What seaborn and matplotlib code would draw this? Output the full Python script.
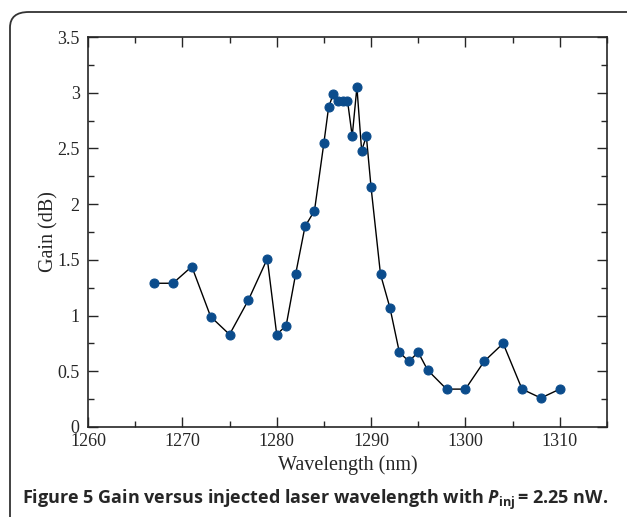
import numpy as np
import pandas as pd
import seaborn as sns
import matplotlib.pyplot as plt
from matplotlib.patches import FancyBboxPatch
from matplotlib.ticker import MultipleLocator, FuncFormatter

# wavelength (nm) and measured gain (dB)
wavelength = [1267, 1269, 1271, 1273, 1275, 1277, 1279, 1280, 1281, 1282,
              1283, 1284, 1285, 1285.5, 1286, 1286.5, 1287, 1287.5, 1288, 1288.5,
              1289, 1289.5, 1290, 1291, 1292, 1293, 1294, 1295, 1296, 1298,
              1300, 1302, 1304, 1306, 1308, 1310]
gain = [1.29, 1.29, 1.44, 0.99, 0.83, 1.14, 1.51, 0.83, 0.91, 1.37,
        1.80, 1.94, 2.55, 2.87, 2.99, 2.93, 2.93, 2.93, 2.61, 3.05,
        2.48, 2.61, 2.15, 1.37, 1.07, 0.67, 0.59, 0.67, 0.51, 0.34,
        0.34, 0.59, 0.75, 0.34, 0.26, 0.34]

df = pd.DataFrame({"wavelength": wavelength, "gain": gain})

sns.set_style("ticks")
plt.rcParams["font.family"] = ["Liberation Serif", "DejaVu Serif"]
plt.rcParams["mathtext.fontset"] = "custom"
plt.rcParams["mathtext.rm"] = "Open Sans:bold"
plt.rcParams["mathtext.it"] = "Open Sans:italic:bold"
plt.rcParams["mathtext.bf"] = "Open Sans:bold"

fig = plt.figure(figsize=(6.27, 5.17), dpi=100)
ax = fig.add_axes([0.1404, 0.1741, 0.968 - 0.1404, 0.9284 - 0.1741])

sns.lineplot(data=df, x="wavelength", y="gain", ax=ax, color="black", lw=1,
             marker="o", markersize=6.5, markerfacecolor="#0b4c8c",
             markeredgecolor="#0b4c8c")

ax.set_xlim(1260, 1315)
ax.set_ylim(0, 3.5)
ax.xaxis.set_major_locator(MultipleLocator(10))
ax.xaxis.set_minor_locator(MultipleLocator(5))
ax.yaxis.set_major_locator(MultipleLocator(0.5))
ax.yaxis.set_minor_locator(MultipleLocator(0.25))
ax.yaxis.set_major_formatter(FuncFormatter(lambda v, p: f"{v:g}"))
ax.tick_params(which="both", direction="in", top=True, right=True, labelsize=13)
ax.tick_params(axis="x", pad=4)
ax.tick_params(axis="y", pad=6)
ax.tick_params(which="major", length=7, width=1)
ax.tick_params(which="minor", length=4, width=1)
for s in ax.spines.values():
    s.set_linewidth(1.2)
ax.set_xlabel("Wavelength (nm)", fontsize=14.5, labelpad=4)
ax.set_ylabel("Gain (dB)", fontsize=14.5, labelpad=-1)

# rounded figure frame
frame = FancyBboxPatch((10 / 627, -0.2), 1.2, 0.2 + 1 - 12 / 517,
                       boxstyle="round,pad=0,rounding_size=0.03",
                       transform=fig.transFigure, fill=False,
                       edgecolor="#333333", lw=1.3, clip_on=False)
fig.add_artist(frame)

fig.text(22 / 627, 1 - 500 / 517,
         r"Figure 5 Gain versus injected laser wavelength with $P_{\mathrm{inj}}\,$= 2.25 nW.",
         family=["Open Sans", "DejaVu Sans"], weight="bold", fontsize=13,
         va="center", ha="left")

fig.savefig("out.png", dpi=100)
